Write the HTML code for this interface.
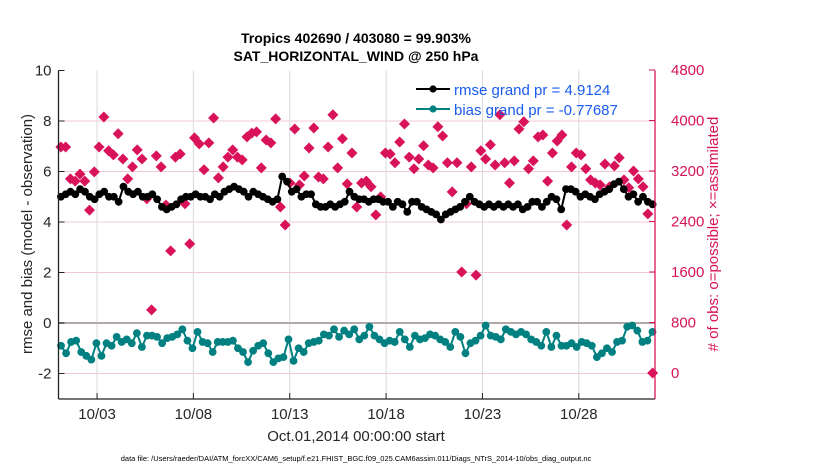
<!DOCTYPE html>
<html><head><meta charset="utf-8"><style>
body{margin:0;background:#fff;}
svg text{font-family:"Liberation Sans",sans-serif;}
</style></head><body>
<svg id="c" width="830" height="470" xmlns="http://www.w3.org/2000/svg"></svg>
<script>
const dayTicks=[3,8,13,18,23,28];
const dayLabels=["10/03","10/08","10/13","10/18","10/23","10/28"];
const leftTicks=[-2,0,2,4,6,8,10];
const rightTicks=[0,800,1600,2400,3200,4000,4800];
const rmse=[5.0,5.1,5.2,5.1,5.3,5.2,5.0,4.9,5.1,5.2,5.0,5.0,4.8,5.4,5.2,5.1,5.2,5.0,5.0,5.1,4.9,4.6,4.5,4.6,4.7,4.9,5.0,5.0,5.1,5.0,5.0,4.9,5.1,5.0,5.2,5.3,5.4,5.3,5.2,5.0,5.2,5.1,5.0,4.9,4.8,4.9,5.8,5.6,5.2,5.3,5.0,5.1,5.1,4.7,4.6,4.6,4.7,4.6,4.7,4.8,5.2,5.0,4.9,4.9,4.8,4.9,4.9,4.8,4.8,4.6,4.8,4.7,4.4,4.8,4.8,4.6,4.5,4.4,4.3,4.1,4.3,4.4,4.5,4.6,4.8,5.0,4.8,4.7,4.6,4.7,4.6,4.7,4.6,4.7,4.6,4.7,4.5,4.6,4.8,4.8,4.6,4.8,5.0,4.9,4.5,5.3,5.3,5.2,5.0,5.1,5.0,4.9,5.1,5.2,5.3,5.5,5.6,5.3,5.0,5.1,4.8,5.0,4.8,4.7];
const bias=[-0.9,-1.2,-0.75,-0.7,-1.15,-1.3,-1.45,-0.8,-1.3,-0.8,-0.9,-0.55,-0.75,-0.65,-0.8,-0.4,-0.95,-0.5,-0.5,-0.55,-0.8,-0.6,-0.55,-0.45,-0.25,-0.7,-1.0,-0.35,-0.75,-0.8,-1.15,-0.75,-0.75,-0.75,-0.7,-1.0,-1.15,-1.55,-1.1,-0.9,-0.8,-1.2,-1.55,-1.4,-1.35,-0.65,-1.5,-1.0,-1.15,-0.8,-0.75,-0.7,-0.45,-0.5,-0.25,-0.55,-0.3,-0.45,-0.25,-0.65,-0.5,-0.15,-0.5,-0.65,-0.8,-0.7,-0.75,-0.35,-0.65,-0.95,-0.5,-0.65,-0.6,-0.45,-0.5,-0.65,-0.75,-0.95,-0.35,-0.55,-1.2,-0.8,-0.7,-0.5,-0.1,-0.5,-0.55,-0.65,-0.25,-0.35,-0.45,-0.35,-0.45,-0.65,-0.75,-0.9,-0.35,-0.95,-0.5,-0.9,-0.9,-0.8,-0.95,-0.75,-0.8,-0.9,-1.35,-1.2,-1.0,-1.15,-0.75,-0.7,-0.15,-0.1,-0.3,-0.75,-0.7,-0.35];
const counts=[3580,3580,3075,3040,3150,3040,2580,3185,3580,4055,3520,3455,3790,3390,3075,3265,3535,3390,2760,1000,3440,3265,2660,1935,3420,3470,2680,2045,3725,3630,3220,3645,4040,3090,3265,3420,3535,3420,3375,3740,3800,3820,3250,3690,3645,4025,2630,2345,3010,3865,2980,3120,3565,3880,3105,3075,3580,4090,3250,3710,2995,3485,2630,3010,3040,2950,2505,2790,3485,3470,3330,3660,3945,3420,3235,3390,3600,3295,3250,3900,3755,3330,2870,3330,1600,2680,3265,1550,3520,3390,3615,3295,4090,3330,3010,3360,3865,3980,3235,3360,3740,3770,3040,3485,3675,3770,2345,3265,3485,3455,3235,3060,3010,2980,3310,2950,3280,3410,3060,2935,3200,3075,2950,2520,0];

const NS="http://www.w3.org/2000/svg";
const svg=document.getElementById('c');
const L=58.5,R=655,T=70.5,B=399;
const yL=v=>323-v*25.25;
const yR=n=>373-n*0.06313;
const xDay=d=>L+(d-1)*19.27;
const xIdx=(i,n)=>L+(i+0.5)*(R-L)/n;
function el(tag,a,p){const e=document.createElementNS(NS,tag);for(const k in a)e.setAttribute(k,a[k]);(p||svg).appendChild(e);return e;}

const grid=el('g',{});


leftTicks.forEach(v=>{if(v!==0&&v!==10)el('line',{x1:L,x2:R,y1:yL(v),y2:yL(v),stroke:'#f3c8d6','stroke-width':1},grid);});
dayTicks.forEach(d=>el('line',{x1:xDay(d),x2:xDay(d),y1:T,y2:B,stroke:'#d9d9d9','stroke-width':1},grid));
const zl=el('line',{x1:L,x2:R,y1:yL(0),y2:yL(0),stroke:'#b0a8aa','stroke-width':2});



const cg=el('g',{fill:'#d8135a'});


counts.forEach((n,i)=>{const x=xIdx(i,counts.length),y=yR(n);
 const p=el('path',{d:`M${x} ${y-5.5}L${x+5.5} ${y}L${x} ${y+5.5}L${x-5.5} ${y}Z`},cg);
 
 });

function series(arr,color,name){
 const g=el('g',{});
 
 
 const pts=arr.map((v,i)=>xIdx(i,arr.length)+','+yL(v)).join(' ');
 el('polyline',{points:pts,fill:'none',stroke:color,'stroke-width':2},g);
 arr.forEach((v,i)=>{const c=el('circle',{cx:xIdx(i,arr.length),cy:yL(v),r:3.9,fill:color},g);
  
  });
}
series(rmse,'#000','rmse-series');
series(bias,'#008080','bias-series');

const ax=el('g',{});


el('line',{x1:L,x2:L,y1:T,y2:B,stroke:'#222','stroke-width':1.3},ax);
el('line',{x1:L,x2:R,y1:B,y2:B,stroke:'#222','stroke-width':1.3},ax);
el('line',{x1:R,x2:R,y1:T,y2:B,stroke:'#d8135a','stroke-width':1.3},ax);
leftTicks.forEach(v=>{el('line',{x1:L,x2:L+6,y1:yL(v),y2:yL(v),stroke:'#222'},ax);
 const t=el('text',{x:L-7,y:yL(v)+5,'text-anchor':'end','font-size':15,fill:'#262626'},ax);t.textContent=v;
 });
rightTicks.forEach(v=>{el('line',{x1:R-6,x2:R,y1:yR(v),y2:yR(v),stroke:'#d8135a'},ax);
 const t=el('text',{x:R+16,y:yR(v)+5,'font-size':15,fill:'#d8135a'},ax);t.textContent=v;
 });
dayTicks.forEach((d,i)=>{el('line',{x1:xDay(d),x2:xDay(d),y1:B-6,y2:B,stroke:'#222'},ax);
 const t=el('text',{x:xDay(d),y:419,'text-anchor':'middle','font-size':15,fill:'#262626'},ax);t.textContent=dayLabels[i];
 });
</script>
<svg width="830" height="470" style="position:absolute;left:0;top:0" xmlns="http://www.w3.org/2000/svg">
<text x="356" y="43" text-anchor="middle" font-size="14" font-weight="bold" fill="#000" font-family="Liberation Sans,sans-serif">Tropics 402690 / 403080 = 99.903%</text>
<text x="356" y="61" text-anchor="middle" font-size="14" font-weight="bold" fill="#000" font-family="Liberation Sans,sans-serif">SAT_HORIZONTAL_WIND @ 250 hPa</text>
<text transform="translate(32,234) rotate(-90)" text-anchor="middle" font-size="15" fill="#262626" font-family="Liberation Sans,sans-serif">rmse and bias (model - observation)</text>
<text transform="translate(718,234) rotate(-90)" text-anchor="middle" font-size="15" fill="#d8135a" font-family="Liberation Sans,sans-serif"># of obs: o=possible; ×=assimilated</text>
<text x="356" y="441" text-anchor="middle" font-size="15" fill="#262626" font-family="Liberation Sans,sans-serif">Oct.01,2014 00:00:00 start</text>
<text x="356" y="461" text-anchor="middle" font-size="7.5" fill="#000" font-family="Liberation Sans,sans-serif">data file: /Users/raeder/DAI/ATM_forcXX/CAM6_setup/f.e21.FHIST_BGC.f09_025.CAM6assim.011/Diags_NTrS_2014-10/obs_diag_output.nc</text>
<g>
<line x1="416" y1="89" x2="450" y2="89" stroke="#000" stroke-width="2"/><circle cx="433" cy="89" r="3.6" fill="#000"/>
<text x="454" y="95" font-size="15" fill="#1a5cf0" font-family="Liberation Sans,sans-serif">rmse grand pr = 4.9124</text>
<line x1="416" y1="109" x2="450" y2="109" stroke="#008080" stroke-width="2"/><circle cx="433" cy="109" r="3.6" fill="#008080"/>
<text x="454" y="115" font-size="15" fill="#1a5cf0" font-family="Liberation Sans,sans-serif">bias grand pr = -0.77687</text>
</g>
</svg>
</body></html>
